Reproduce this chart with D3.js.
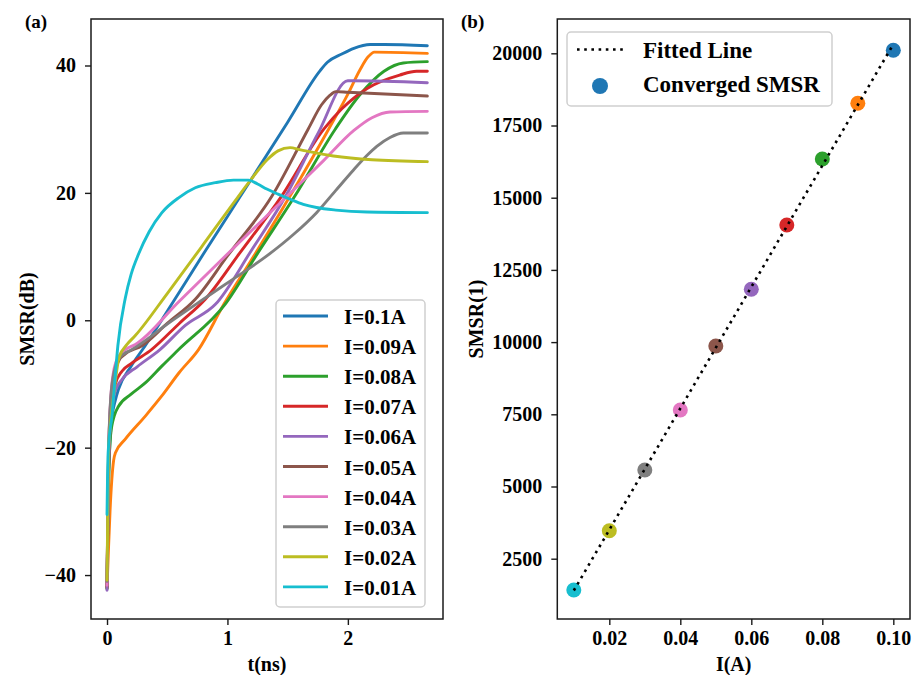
<!DOCTYPE html>
<html>
<head>
<meta charset="utf-8">
<script src="https://cdn.jsdelivr.net/npm/d3@7"></script>
<style>
  body { margin: 0; background: #fff; }
  svg text { font-family: "Liberation Serif", "Times New Roman", serif; font-weight: bold; fill: #000; }
</style>
</head>
<body>
<svg id="fig" width="916" height="675"></svg>
<script>
// ---- Panel (a): SMSR transients, t (ns) vs SMSR (dB) ----
const currents = [0.1, 0.09, 0.08, 0.07, 0.06, 0.05, 0.04, 0.03, 0.02, 0.01];
const seriesLabels = ["I=0.1A", "I=0.09A", "I=0.08A", "I=0.07A", "I=0.06A",
                      "I=0.05A", "I=0.04A", "I=0.03A", "I=0.02A", "I=0.01A"];
const seriesColors = ["#1f77b4", "#ff7f0e", "#2ca02c", "#d62728", "#9467bd",
                      "#8c564b", "#e377c2", "#7f7f7f", "#bcbd22", "#17becf"];

const smsr_I010 = [[0,-42.1],[0.004,-36],[0.01,-28],[0.02,-21],[0.04,-15.5],[0.07,-12.5],[0.096,-10.8],[0.2,-7.2],[0.317,-4],[0.55,2.9],[0.8,10.4],[1.0,16.3],[1.19,21.9],[1.5,31.1],[1.77,39.2],[1.83,40.5],[1.95,41.8],[2.05,42.7],[2.185,43.3],[2.3,43.3],[2.66,43.1]];
const smsr_I009 = [[0,-42],[0.01,-37],[0.025,-30],[0.04,-25],[0.055,-22],[0.07,-20.8],[0.15,-18.7],[0.32,-15],[0.45,-12],[0.6,-8.2],[0.76,-4.6],[0.97,2.5],[1.2,9.5],[1.52,19.5],[1.84,30],[2.0,35.5],[2.1,39.3],[2.17,41.4],[2.22,42.1],[2.66,41.9]];
const smsr_I008 = [[0,-42.2],[0.006,-34],[0.015,-24],[0.03,-18],[0.06,-15],[0.096,-13.5],[0.2,-11.6],[0.32,-9.8],[0.455,-7.2],[0.595,-4.6],[0.98,2.5],[1.25,10.5],[1.56,19.5],[1.895,30],[2.1,35.4],[2.3,39.1],[2.46,40.4],[2.66,40.6]];
const smsr_I007 = [[0,-42],[0.005,-34],[0.012,-24],[0.03,-15],[0.07,-10],[0.124,-8],[0.2,-6.8],[0.37,-4.6],[0.6,-0.5],[0.816,3.3],[1.1,10.5],[1.45,19.5],[1.8,30],[1.95,33.2],[2.16,36.4],[2.43,38.5],[2.57,39.1],[2.66,39.1]];
const smsr_I006 = [[0,-42.4],[0.005,-34],[0.012,-24],[0.03,-16],[0.07,-11],[0.124,-9.3],[0.25,-7.3],[0.44,-4.6],[0.65,-0.8],[0.9,2.5],[1.2,11],[1.49,19.7],[1.756,29.5],[2.0,37.6],[2.04,37.6],[2.66,37.3]];
const smsr_I005 = [[0,-41.5],[0.005,-33],[0.012,-22],[0.03,-13],[0.06,-8.5],[0.1,-6.3],[0.152,-5.3],[0.29,-4.0],[0.5,-0.5],[0.733,3.3],[1.0,10.1],[1.37,19.5],[1.67,30],[1.78,33.8],[1.85,35.3],[1.9,35.9],[2.0,35.8],[2.66,35.2]];
const smsr_I004 = [[0,-41.6],[0.005,-33],[0.012,-22],[0.03,-12.5],[0.06,-7.5],[0.1,-5.6],[0.152,-4.6],[0.235,-3.8],[0.6,3.0],[1.0,10.4],[1.48,19.2],[1.8,25.1],[2.05,29.8],[2.2,31.8],[2.35,32.7],[2.66,32.8]];
const smsr_I003 = [[0,-41],[0.005,-33],[0.012,-22],[0.03,-12.5],[0.06,-8],[0.1,-6],[0.138,-5.3],[0.207,-4.6],[0.5,-0.6],[0.8,3.3],[1.05,6.5],[1.327,10.1],[1.55,13.5],[1.74,16.9],[1.9,20.4],[2.047,23.6],[2.16,25.9],[2.24,27.3],[2.35,28.7],[2.46,29.4],[2.66,29.4]];
const smsr_I002 = [[0,-40.8],[0.005,-32],[0.012,-21],[0.03,-16],[0.06,-11],[0.08,-8],[0.1,-5.8],[0.166,-3.8],[0.235,-2.4],[0.5,4.2],[0.8,11.9],[1.05,18.4],[1.2,22.2],[1.33,25.2],[1.42,26.6],[1.52,27.1],[1.6,26.8],[1.75,26.2],[1.88,25.8],[2.2,25.2],[2.66,24.9]];
const smsr_I001 = [[0,-30.5],[0.004,-25],[0.008,-21.5],[0.013,-19.7],[0.041,-15],[0.065,-9.5],[0.09,-4],[0.152,3.5],[0.2,7.2],[0.262,10.4],[0.35,13.9],[0.456,16.9],[0.6,19.3],[0.733,20.8],[0.9,21.6],[1.05,22.0],[1.175,22.0],[1.25,21.4],[1.327,20.6],[1.42,19.8],[1.52,19.0],[1.63,18.2],[1.74,17.7],[1.9,17.3],[2.16,17.0],[2.66,16.9]];
const transientSeries = [smsr_I010, smsr_I009, smsr_I008, smsr_I007, smsr_I006,
                         smsr_I005, smsr_I004, smsr_I003, smsr_I002, smsr_I001];

const timeTicks = [0, 1, 2];
const dbTicks = [-40, -20, 0, 20, 40];

// ---- Panel (b): converged SMSR (linear) vs drive current ----
const convergedCurrents = [0.01, 0.02, 0.03, 0.04, 0.05, 0.06, 0.07, 0.08, 0.09, 0.10];
const convergedSMSR = [1416, 3470, 5572, 7650, 9865, 11828, 14055, 16340, 18269, 20104];
const convergedColors = ["#17becf", "#bcbd22", "#7f7f7f", "#e377c2", "#8c564b",
                         "#9467bd", "#d62728", "#2ca02c", "#ff7f0e", "#1f77b4"];
const currentTicks = [0.02, 0.04, 0.06, 0.08, 0.10];
const linearTicks = [2500, 5000, 7500, 10000, 12500, 15000, 17500, 20000];

// ---------------------------------------------------------------
const svg = d3.select("#fig");
const frameColor = "#1a1a1a";

function styleAxis(g) {
  g.attr("font-size", 20)
   .attr("font-family", "Liberation Serif, Times New Roman, serif")
   .attr("font-weight", "bold");
  g.select(".domain").remove();
  g.selectAll(".tick line").attr("stroke", frameColor).attr("stroke-width", 1.4);
  g.selectAll(".tick text").attr("fill", "#000");
}

// ===== Panel (a) =====
const A = { left: 91, right: 443, top: 19, bottom: 619 };
const xA = d3.scaleLinear().domain([-0.133, 2.79]).range([A.left, A.right]);
const yA = d3.scaleLinear().domain([-46.9, 47.3]).range([A.bottom, A.top]);

const gA = svg.append("g");
svg.append("clipPath").attr("id", "clipA")
  .append("rect").attr("x", A.left).attr("y", A.top)
  .attr("width", A.right - A.left).attr("height", A.bottom - A.top);

const line = d3.line().x(d => xA(d[0])).y(d => yA(d[1])).curve(d3.curveMonotoneX);
const plotA = gA.append("g").attr("clip-path", "url(#clipA)");
transientSeries.forEach((s, i) => {
  plotA.append("path").attr("d", line(s)).attr("fill", "none")
    .attr("stroke", seriesColors[i]).attr("stroke-width", 2.9)
    .attr("stroke-linejoin", "round").attr("stroke-linecap", "round");
});

gA.append("g").attr("transform", `translate(0,${A.bottom})`)
  .call(d3.axisBottom(xA).tickValues(timeTicks).tickFormat(d3.format("d"))
        .tickSize(6).tickPadding(6))
  .call(styleAxis);
gA.append("g").attr("transform", `translate(${A.left},0)`)
  .call(d3.axisLeft(yA).tickValues(dbTicks).tickFormat(d3.format("d"))
        .tickSize(6).tickPadding(9))
  .call(styleAxis);

gA.append("rect").attr("x", A.left).attr("y", A.top)
  .attr("width", A.right - A.left).attr("height", A.bottom - A.top)
  .attr("fill", "none").attr("stroke", frameColor).attr("stroke-width", 1.5);

// legend (a)
const legA = gA.append("g");
legA.append("rect").attr("x", 276).attr("y", 300).attr("width", 149).attr("height", 307)
  .attr("rx", 4).attr("fill", "#fff").attr("fill-opacity", 0.85)
  .attr("stroke", "#cfcfcf").attr("stroke-width", 1.5);
seriesLabels.forEach((lab, i) => {
  const y = 316 + i * 30.1;
  legA.append("line").attr("x1", 283).attr("x2", 328).attr("y1", y).attr("y2", y)
    .attr("stroke", seriesColors[i]).attr("stroke-width", 2.9);
  legA.append("text").attr("x", 344).attr("y", y + 8).attr("font-size", 21).text(lab);
});

gA.append("text").attr("x", (A.left + A.right) / 2).attr("y", 671)
  .attr("text-anchor", "middle").attr("font-size", 20).text("t(ns)");
gA.append("text").attr("transform", `translate(34,${(A.top + A.bottom) / 2}) rotate(-90)`)
  .attr("text-anchor", "middle").attr("font-size", 20).text("SMSR(dB)");
gA.append("text").attr("x", 25).attr("y", 28).attr("font-size", 19).text("(a)");

// ===== Panel (b) =====
const B = { left: 557.3, right: 910, top: 19, bottom: 619 };
const xB = d3.scaleLinear().domain([0.00535, 0.1047]).range([B.left, B.right]);
const yB = d3.scaleLinear().domain([412, 21188]).range([B.bottom, B.top]);
const gB = svg.append("g");

// least-squares straight line through the converged points
const n = convergedCurrents.length;
const mx = d3.mean(convergedCurrents), my = d3.mean(convergedSMSR);
let sxy = 0, sxx = 0;
for (let i = 0; i < n; i++) {
  sxy += (convergedCurrents[i] - mx) * (convergedSMSR[i] - my);
  sxx += (convergedCurrents[i] - mx) ** 2;
}
const slope = sxy / sxx, intercept = my - slope * mx;
const fitEnds = d3.extent(convergedCurrents).map(x => [x, intercept + slope * x]);

gB.selectAll("circle.pt").data(convergedCurrents).enter().append("circle")
  .attr("class", "pt")
  .attr("cx", d => xB(d)).attr("cy", (d, i) => yB(convergedSMSR[i]))
  .attr("r", 7.5).attr("fill", (d, i) => convergedColors[i]);

gB.append("path")
  .attr("d", d3.line().x(d => xB(d[0])).y(d => yB(d[1]))(fitEnds))
  .attr("fill", "none").attr("stroke", "#000").attr("stroke-width", 2.6)
  .attr("stroke-dasharray", "2.6 4.6");

gB.append("g").attr("transform", `translate(0,${B.bottom})`)
  .call(d3.axisBottom(xB).tickValues(currentTicks).tickFormat(d3.format(".2f"))
        .tickSize(6).tickPadding(6))
  .call(styleAxis);
gB.append("g").attr("transform", `translate(${B.left},0)`)
  .call(d3.axisLeft(yB).tickValues(linearTicks).tickFormat(d3.format("d"))
        .tickSize(6).tickPadding(9))
  .call(styleAxis);

gB.append("rect").attr("x", B.left).attr("y", B.top)
  .attr("width", B.right - B.left).attr("height", B.bottom - B.top)
  .attr("fill", "none").attr("stroke", frameColor).attr("stroke-width", 1.5);

// legend (b)
const legB = gB.append("g");
legB.append("rect").attr("x", 567).attr("y", 32).attr("width", 265).attr("height", 74)
  .attr("rx", 4).attr("fill", "#fff").attr("fill-opacity", 0.85)
  .attr("stroke", "#cfcfcf").attr("stroke-width", 1.5);
legB.append("line").attr("x1", 577).attr("x2", 624).attr("y1", 49.5).attr("y2", 49.5)
  .attr("stroke", "#000").attr("stroke-width", 2.6).attr("stroke-dasharray", "2.6 4.6");
legB.append("text").attr("x", 643).attr("y", 58).attr("font-size", 23).text("Fitted Line");
legB.append("circle").attr("cx", 600).attr("cy", 86).attr("r", 8).attr("fill", "#1f77b4");
legB.append("text").attr("x", 643).attr("y", 92).attr("font-size", 23).text("Converged SMSR");

gB.append("text").attr("x", (B.left + B.right) / 2).attr("y", 671)
  .attr("text-anchor", "middle").attr("font-size", 20).text("I(A)");
gB.append("text").attr("transform", `translate(483,${(B.top + B.bottom) / 2}) rotate(-90)`)
  .attr("text-anchor", "middle").attr("font-size", 20).text("SMSR(1)");
gB.append("text").attr("x", 461).attr("y", 28).attr("font-size", 19).text("(b)");
</script>
</body>
</html>
